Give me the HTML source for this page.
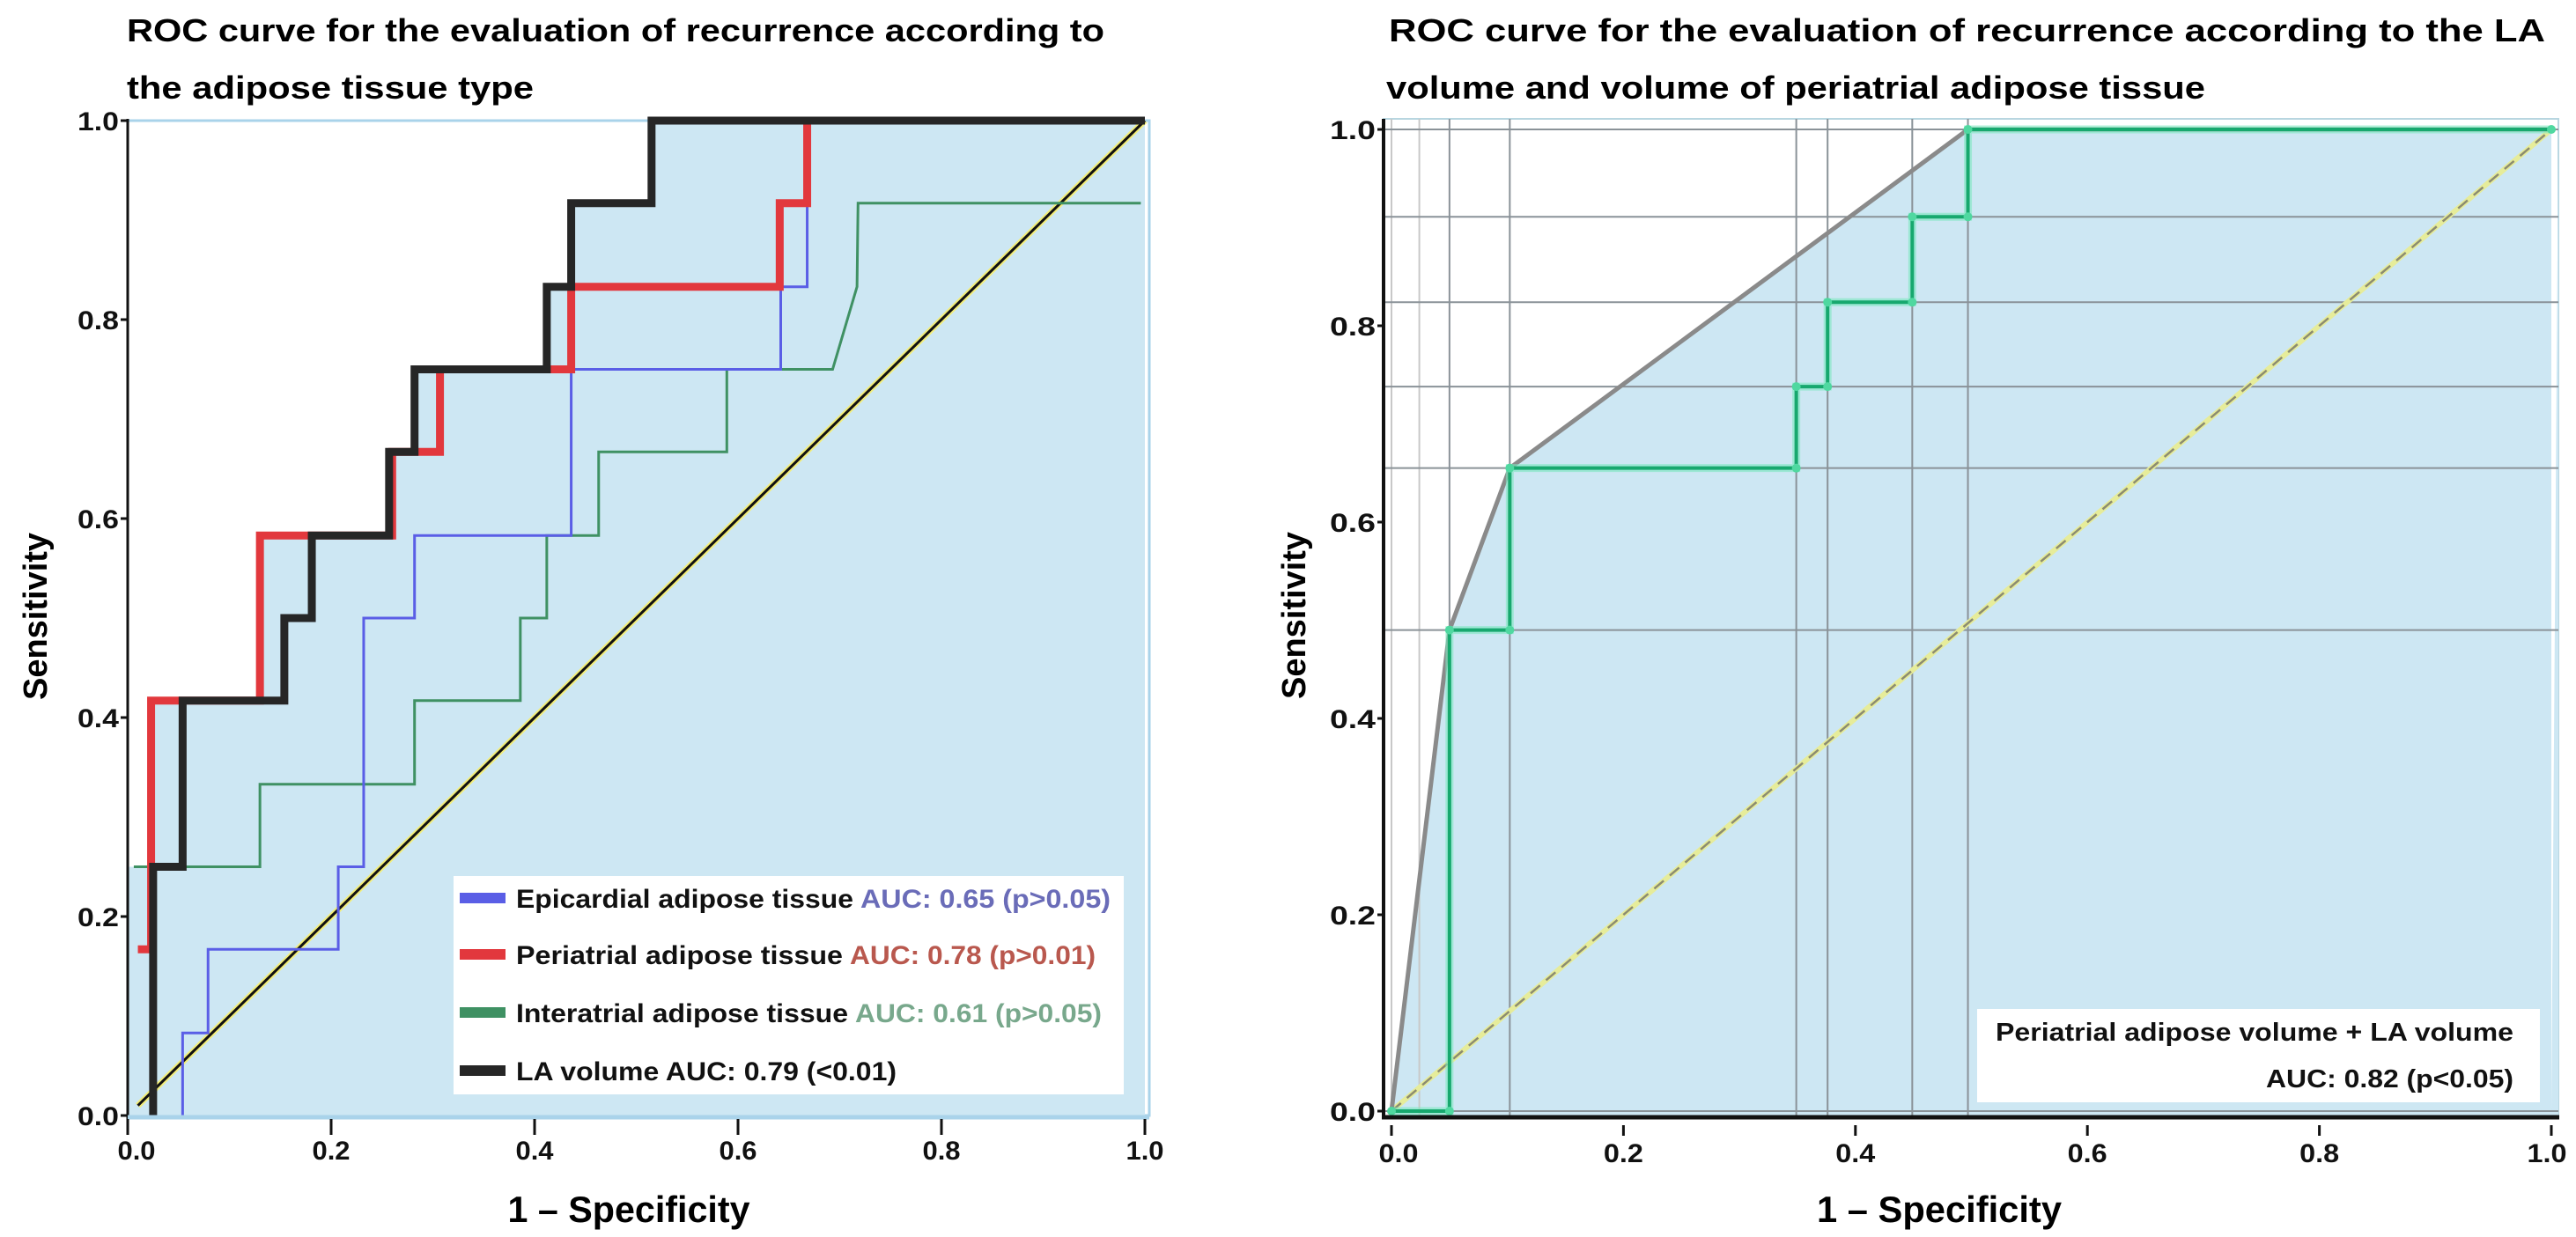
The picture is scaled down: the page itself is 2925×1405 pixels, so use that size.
<!DOCTYPE html>
<html><head><meta charset="utf-8"><style>
html,body{margin:0;padding:0;background:#fff;}
svg{display:block;}
text{font-family:"Liberation Sans",sans-serif;font-weight:bold;}
</style></head><body>
<svg id="fig" width="2925" height="1405" viewBox="0 0 2925 1405" xmlns="http://www.w3.org/2000/svg">
<g id="left"></g>
<g id="right"></g>
</svg>
<script>
// ---------- Left chart data ----------
const tickValues = [0, 0.2, 0.4, 0.6, 0.8, 1.0];
const tickLabels = ["0.0", "0.2", "0.4", "0.6", "0.8", "1.0"];
const laX = [0.025, 0.025, 0.054, 0.054, 0.154, 0.154, 0.181, 0.181, 0.257, 0.257, 0.282, 0.282, 0.412, 0.412, 0.436, 0.436, 0.515, 0.515, 1.0];
const laY = [0.0, 0.25, 0.25, 0.417, 0.417, 0.5, 0.5, 0.583, 0.583, 0.667, 0.667, 0.75, 0.75, 0.833, 0.833, 0.917, 0.917, 1.0, 1.0];
const periX = [0.01, 0.023, 0.023, 0.13, 0.13, 0.26, 0.26, 0.307, 0.307, 0.436, 0.436, 0.641, 0.641, 0.668, 0.668, 1.0];
const periY = [0.167, 0.167, 0.417, 0.417, 0.583, 0.583, 0.667, 0.667, 0.75, 0.75, 0.833, 0.833, 0.917, 0.917, 1.0, 1.0];
const epiX = [0.054, 0.054, 0.079, 0.079, 0.207, 0.207, 0.232, 0.232, 0.282, 0.282, 0.436, 0.436, 0.642, 0.642, 0.668, 0.668, 1.0];
const epiY = [0.0, 0.083, 0.083, 0.167, 0.167, 0.25, 0.25, 0.5, 0.5, 0.583, 0.583, 0.75, 0.75, 0.833, 0.833, 1.0, 1.0];
const interX = [0.006, 0.13, 0.13, 0.282, 0.282, 0.386, 0.386, 0.412, 0.412, 0.463, 0.463, 0.589, 0.589, 0.693, 0.717, 0.718, 0.996];
const interY = [0.25, 0.25, 0.333, 0.333, 0.417, 0.417, 0.5, 0.5, 0.583, 0.583, 0.667, 0.667, 0.75, 0.75, 0.833, 0.917, 0.917];
const legendNames = ["Epicardial adipose tissue ", "Periatrial adipose tissue ", "Interatrial adipose tissue ", "LA volume AUC: 0.79 (<0.01)"];
const legendAUC = ["AUC: 0.65 (p>0.05)", "AUC: 0.78 (p>0.01)", "AUC: 0.61 (p>0.05)", ""];

// ---------- Right chart data ----------
const stepX = [0.0, 0.05, 0.05, 0.102, 0.102, 0.349, 0.349, 0.376, 0.376, 0.449, 0.449, 0.497, 0.497, 1.0];
const stepY = [0.0, 0.0, 0.49, 0.49, 0.655, 0.655, 0.738, 0.738, 0.824, 0.824, 0.911, 0.911, 1.0, 1.0];
const hullX = [0.0, 0.05, 0.102, 0.497, 1.0];
const hullY = [0.0, 0.49, 0.655, 1.0, 1.0];
const gridXs = [0.0, 0.024, 0.05, 0.102, 0.349, 0.376, 0.449, 0.497];
const gridYs = [0.0, 0.49, 0.655, 0.738, 0.824, 0.911, 1.0];

const NS = "http://www.w3.org/2000/svg";
function mk(parent, tag, attrs, txt) {
  const e = document.createElementNS(NS, tag);
  for (const k in attrs) e.setAttribute(k, attrs[k]);
  if (txt !== undefined) e.textContent = txt;
  parent.appendChild(e);
  return e;
}
function pts(xs, ys, sx, sy) { return xs.map((v, i) => sx(v) + "," + sy(ys[i])).join(" "); }

// ================= LEFT =================
(function(){
  const g = document.getElementById("left");
  const X0 = 145, X1 = 1300, Y0 = 1267, Y1 = 137;
  const sx = v => X0 + v * (X1 - X0);
  const sy = v => Y0 - v * (Y0 - Y1);
  let t;
  t = mk(g, "text", {x: 144, y: 47, "font-size": 36, textLength: 1110, lengthAdjust: "spacingAndGlyphs"}, "ROC curve for the evaluation of recurrence according to");
  
  
  t = mk(g, "text", {x: 144, y: 112, "font-size": 36, textLength: 462, lengthAdjust: "spacingAndGlyphs"}, "the adipose tissue type");
  
  

  let r = mk(g, "rect", {x: X0, y: Y1, width: X1 - X0 + 5, height: Y0 - Y1, fill: "#ffffff", stroke: "#a9d3ea", "stroke-width": 3});
  
  
  [[laX, laY], [periX, periY]].forEach(function(s){
    const xs = [s[0][0]].concat(s[0], [1.0, 1.0]);
    const ys = [0].concat(s[1], [1.0, 0]);
    const p = mk(g, "polygon", {points: pts(xs, ys, sx, sy), fill: "#cde7f3", stroke: "none"});
    
    
  });
  let p0 = mk(g, "rect", {x: X0, y: sy(0.25), width: sx(0.03) - X0, height: Y0 - sy(0.25), fill: "#cde7f3"});
  
  

  let d = mk(g, "line", {x1: sx(0.01), y1: sy(0.01), x2: sx(1), y2: sy(1), stroke: "#f3ee7a", "stroke-width": 7});
  
  
  d = mk(g, "line", {x1: sx(0.01), y1: sy(0.01), x2: sx(1), y2: sy(1), stroke: "#111", "stroke-width": 3});
  
  

  const series = [
    [interX, interY, "#3f9163", 3, "interatrial-curve"],
    [epiX, epiY, "#5a5ee6", 3, "epicardial-curve"],
    [periX, periY, "#e2383d", 9, "periatrial-curve"],
    [laX, laY, "#262626", 9, "la-volume-curve"]
  ];
  series.forEach(function(s){
    const l = mk(g, "polyline", {points: pts(s[0], s[1], sx, sy), fill: "none", stroke: s[2], "stroke-width": s[3], "stroke-linejoin": "miter"});
    
    
  });

  let ax = mk(g, "line", {x1: X0, y1: Y1 - 2, x2: X0, y2: Y0 + 22, stroke: "#111", "stroke-width": 3});
  
  
  ax = mk(g, "line", {x1: X0, y1: Y0 + 2, x2: X1 + 5, y2: Y0 + 2, stroke: "#a9d3ea", "stroke-width": 5});
  
  
  tickValues.forEach(function(v, i){
    let tk = mk(g, "line", {x1: X0 - 8, y1: sy(v), x2: X0, y2: sy(v), stroke: "#111", "stroke-width": 3});
    
    
    let lb = mk(g, "text", {x: X0 - 10, y: sy(v) + 11, "font-size": 30, "text-anchor": "end", "font-weight": "normal", fill: "#111", textLength: 47, lengthAdjust: "spacingAndGlyphs"}, tickLabels[i]);
    
    
    tk = mk(g, "line", {x1: sx(v), y1: Y0 + 4, x2: sx(v), y2: Y0 + 22, stroke: "#111", "stroke-width": 3});
    
    
    lb = mk(g, "text", {x: sx(v) + (i === 0 ? 10 : 0), y: Y0 + 50, "font-size": 30, "text-anchor": "middle", "font-weight": "normal", fill: "#111", textLength: 43, lengthAdjust: "spacingAndGlyphs"}, tickLabels[i]);
    
    
  });
  t = mk(g, "text", {x: 0, y: 0, "font-size": 38, "text-anchor": "middle", transform: "translate(53,700) rotate(-90)"}, "Sensitivity");
  
  
  t = mk(g, "text", {x: 714, y: 1388, "font-size": 42, "text-anchor": "middle", textLength: 275, lengthAdjust: "spacingAndGlyphs"}, "1 – Specificity");
  
  

  let lg = mk(g, "rect", {x: 515, y: 995, width: 761, height: 248, fill: "#ffffff"});
  
  
  const lcol = ["#5a5ee6", "#e2383d", "#3f9163", "#262626"];
  const tcol = ["#6a6cb8", "#b9584e", "#78a88c", "#111"];
  const ly = [1020, 1084, 1150, 1216];
  const nameW = [383, 371, 377, 432];
  const aucW = [284, 279, 280, 0];
  legendNames.forEach(function(n, i){
    let sw = mk(g, "rect", {x: 522, y: ly[i] - 6, width: 52, height: 12, fill: lcol[i]});
    
    
    let tx = mk(g, "text", {x: 586, y: ly[i] + 11, "font-size": 30, fill: "#111", textLength: nameW[i], lengthAdjust: "spacingAndGlyphs"}, n);
    
    
    if (legendAUC[i]) {
      tx = mk(g, "text", {x: 586 + nameW[i] + 8, y: ly[i] + 11, "font-size": 30, fill: tcol[i], textLength: aucW[i], lengthAdjust: "spacingAndGlyphs"}, legendAUC[i]);
      
      
    }
  });
})();

// ================= RIGHT =================
(function(){
  const g = document.getElementById("right");
  const X0 = 1580, X1 = 2897, Y0 = 1262, Y1 = 147;
  const sx = v => X0 + v * (X1 - X0);
  const sy = v => Y0 - v * (Y0 - Y1);
  let t;
  t = mk(g, "text", {x: 1577, y: 47, "font-size": 36, textLength: 1313, lengthAdjust: "spacingAndGlyphs"}, "ROC curve for the evaluation of recurrence according to the LA");
  
  
  t = mk(g, "text", {x: 1574, y: 112, "font-size": 36, textLength: 930, lengthAdjust: "spacingAndGlyphs"}, "volume and volume of periatrial adipose tissue");
  
  

  let r = mk(g, "rect", {x: 1571, y: 135, width: 2905 - 1571, height: 1268 - 135, fill: "#ffffff", stroke: "#b8d6e0", "stroke-width": 2});
  
  
  const fx = [0].concat(hullX, [1.0]);
  const fy = [0].concat(hullY, [0]);
  let f = mk(g, "polygon", {points: pts(fx, fy, sx, sy) + " " + (2905) + "," + sy(1) + " 2905,1268 " + X0 + ",1268", fill: "#cde7f3"});
  
  

  gridXs.forEach(function(v){
    const l = mk(g, "line", {x1: sx(v), y1: 135, x2: sx(v), y2: 1268, stroke: v < 0.03 ? "#c8c8c8" : "#8a9298", "stroke-width": 2});
    
    
  });
  gridYs.forEach(function(v){
    const l = mk(g, "line", {x1: 1571, y1: sy(v), x2: 2905, y2: sy(v), stroke: "#8a9298", "stroke-width": 2});
    
    
  });

  let d = mk(g, "line", {x1: sx(0), y1: sy(0), x2: sx(1), y2: sy(1), stroke: "#e6ec9a", "stroke-width": 6});
  
  
  d = mk(g, "line", {x1: sx(0), y1: sy(0), x2: sx(1), y2: sy(1), stroke: "#8c8c70", "stroke-width": 2.5, "stroke-dasharray": "14,9"});
  
  

  let h = mk(g, "polyline", {points: pts(hullX, hullY, sx, sy), fill: "none", stroke: "#8a8a8a", "stroke-width": 5});
  
  
  let s = mk(g, "polyline", {points: pts(stepX, stepY, sx, sy), fill: "none", stroke: "#7de8c0", "stroke-width": 9, opacity: 0.6});
  
  
  s = mk(g, "polyline", {points: pts(stepX, stepY, sx, sy), fill: "none", stroke: "#17a86e", "stroke-width": 4});
  
  
  stepX.forEach(function(v, i){
    const c = mk(g, "circle", {cx: sx(v), cy: sy(stepY[i]), r: 5, fill: "#4fd8a0"});
    
    
  });

  let ax = mk(g, "line", {x1: 1571, y1: 135, x2: 1571, y2: 1270, stroke: "#111", "stroke-width": 4});
  
  
  ax = mk(g, "line", {x1: 1569, y1: 1269, x2: 2906, y2: 1269, stroke: "#111", "stroke-width": 5});
  
  
  tickValues.forEach(function(v, i){
    let tk = mk(g, "line", {x1: 1564, y1: sy(v), x2: 1570, y2: sy(v), stroke: "#111", "stroke-width": 3});
    
    
    let lb = mk(g, "text", {x: 1562, y: sy(v) + 11, "font-size": 30, "text-anchor": "end", "font-weight": "normal", fill: "#111", textLength: 52, lengthAdjust: "spacingAndGlyphs"}, tickLabels[i]);
    
    
    tk = mk(g, "line", {x1: sx(v), y1: 1278, x2: sx(v), y2: 1290, stroke: "#111", "stroke-width": 3});
    
    
    lb = mk(g, "text", {x: sx(v) + (i === 0 ? 8 : (i === 5 ? -5 : 0)), y: 1320, "font-size": 30, "text-anchor": "middle", "font-weight": "normal", fill: "#111", textLength: 45, lengthAdjust: "spacingAndGlyphs"}, tickLabels[i]);
    
    
  });
  t = mk(g, "text", {x: 0, y: 0, "font-size": 38, "text-anchor": "middle", transform: "translate(1482,699) rotate(-90)"}, "Sensitivity");
  
  
  t = mk(g, "text", {x: 2202, y: 1388, "font-size": 42, "text-anchor": "middle", textLength: 278, lengthAdjust: "spacingAndGlyphs"}, "1 – Specificity");
  
  

  let lg = mk(g, "rect", {x: 2245, y: 1146, width: 639, height: 106, fill: "#ffffff"});
  
  
  t = mk(g, "text", {x: 2266, y: 1182, "font-size": 29, fill: "#111", textLength: 588, lengthAdjust: "spacingAndGlyphs"}, "Periatrial adipose volume + LA volume");
  
  
  t = mk(g, "text", {x: 2854, y: 1235, "font-size": 29, fill: "#111", "text-anchor": "end", textLength: 281, lengthAdjust: "spacingAndGlyphs"}, "AUC: 0.82 (p<0.05)");
  
  
})();
</script>
</body></html>
